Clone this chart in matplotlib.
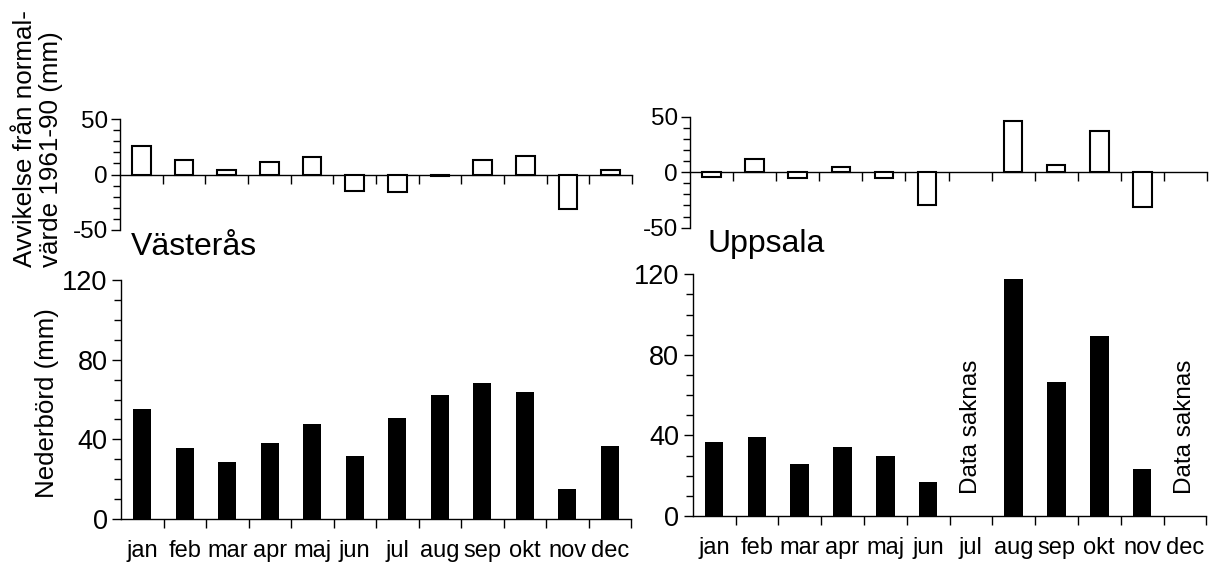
import numpy as np
import matplotlib
matplotlib.use("Agg")
import matplotlib.pyplot as plt
from matplotlib import font_manager
from matplotlib.ticker import MultipleLocator, FixedLocator, NullFormatter

months = ['jan', 'feb', 'mar', 'apr', 'maj', 'jun', 'jul', 'aug', 'sep', 'okt', 'nov', 'dec']
vasteras_dev = [25.5, 13.5, 4, 11, 15.5, -15, -16, -1.5, 13, 16.5, -31, 4]
vasteras_precip = [55, 35.5, 28.5, 38, 47.5, 31.5, 50.5, 62.5, 68.5, 64, 15, 36.5]
uppsala_dev = [-4, 12, -5, 5, -5, -30, None, 46, 6.5, 37.5, -31, None]
uppsala_precip = [36.5, 39, 26, 34.5, 30, 17, None, 117.5, 66.5, 89.5, 23.5, None]
missing_label = 'Data saknas'

names = {f.name for f in font_manager.fontManager.ttflist}
base_font = 'Liberation Sans' if 'Liberation Sans' in names else 'DejaVu Sans'
if 'Liberation Sans Narrow' in names:
    month_font, month_size = 'Liberation Sans Narrow', 21
else:
    month_font, month_size = base_font, 17
plt.rcParams['font.family'] = [base_font, 'DejaVu Sans']
plt.rcParams['axes.unicode_minus'] = False

W, H = 1219, 564
fig = plt.figure(figsize=(W / 100, H / 100), dpi=100)


def px_axes(x0, x1, ytop, ybot):
    return fig.add_axes([x0 / W, 1 - ybot / H, (x1 - x0) / W, (ybot - ytop) / H])


x = np.arange(1, 13)
bw = 0.43


def style_common(ax):
    for s in ['top', 'right']:
        ax.spines[s].set_visible(False)
    for s in ['left', 'bottom']:
        ax.spines[s].set_linewidth(1.0)
    ax.set_xlim(0.5, 12.5)
    ax.xaxis.set_major_locator(FixedLocator(np.arange(1.5, 12.6, 1.0)))
    ax.tick_params(axis='x', direction='out', length=6.3, width=1.0)
    ax.tick_params(axis='y', which='major', direction='out', length=6.7, width=1.0)
    ax.tick_params(axis='y', which='minor', direction='out', length=5, width=1.0)
    ax.patch.set_visible(False)


def dev_axes(ax, vals):
    style_common(ax)
    ax.set_ylim(-50, 50)
    ax.yaxis.set_major_locator(MultipleLocator(50))
    ax.yaxis.set_minor_locator(MultipleLocator(10))
    ax.spines['bottom'].set_position(('data', 0))
    ax.xaxis.set_major_formatter(NullFormatter())
    ax.tick_params(axis='y', labelsize=17.5, pad=2)
    xs = [xi for xi, v in zip(x, vals) if v is not None]
    vs = [v for v in vals if v is not None]
    ax.bar(xs, vs, width=bw, facecolor='white', edgecolor='black', linewidth=1.5, zorder=3)


def precip_axes(ax, vals):
    style_common(ax)
    ax.set_ylim(0, 120)
    ax.yaxis.set_major_locator(MultipleLocator(40))
    ax.yaxis.set_minor_locator(MultipleLocator(10))
    ax.tick_params(axis='y', labelsize=19.5, pad=3)
    ax.set_xticks(np.arange(1.5, 12.6, 1.0))
    ax.xaxis.set_major_formatter(NullFormatter())
    ax.set_xticks(x, minor=True)
    ax.set_xticklabels(months, minor=True, fontfamily=month_font, fontsize=month_size)
    ax.tick_params(axis='x', which='minor', length=0, pad=15)
    xs = [xi for xi, v in zip(x, vals) if v is not None]
    vs = [v for v in vals if v is not None]
    ax.bar(xs, vs, width=bw, color='black', zorder=3)
    for xi, v in zip(x, vals):
        if v is None:
            ax.text(xi, 11, missing_label, rotation=90, ha='center', va='bottom', fontsize=17.5)


ax_tl = px_axes(120, 632, 119, 230)
dev_axes(ax_tl, vasteras_dev)
ax_tr = px_axes(690, 1207, 116.7, 227.7)
dev_axes(ax_tr, uppsala_dev)
ax_bl = px_axes(121, 631, 280, 519)
precip_axes(ax_bl, vasteras_precip)
ax_br = px_axes(692.7, 1206.3, 274.3, 516)
precip_axes(ax_br, uppsala_precip)

fig.text(131 / W, 1 - 255 / H, 'Västerås', fontsize=23, va='baseline', ha='left')
fig.text(708 / W, 1 - 251.7 / H, 'Uppsala', fontsize=23, va='baseline', ha='left')

fig.text(13 / W, 1 - 267 / H, 'Avvikelse från normal-\nvärde 1961-90 (mm)', rotation=90,
         ha='left', va='bottom', multialignment='left', fontsize=18.7, linespacing=1.1)
fig.text(47.5 / W, 1 - 403 / H, 'Nederbörd (mm)', rotation=90, ha='center', va='center',
         fontsize=18.6)

fig.savefig('out.png', dpi=100)
